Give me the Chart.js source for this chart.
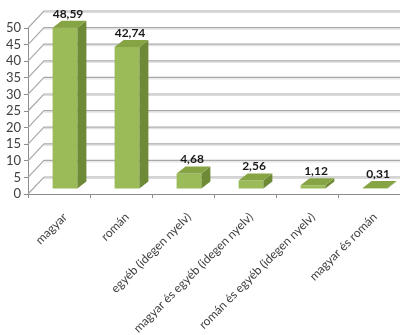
<!DOCTYPE html>
<html>
<head>
<meta charset="utf-8">
<script src="https://cdn.jsdelivr.net/npm/chart.js@4/dist/chart.umd.min.js"></script>
<style>
  html, body { margin: 0; padding: 0; background: #fff; }
  #wrap { width: 400px; height: 335px; }
</style>
</head>
<body>
<div id="wrap"><canvas id="chart"></canvas></div>
<script>
// categories and values
const categories = ['magyar', 'román', 'egyéb (idegen nyelv)', 'magyar és egyéb (idegen nyelv)', 'román és egyéb (idegen nyelv)', 'magyar és román'];
const shares = [48.59, 42.74, 4.68, 2.56, 1.12, 0.31];
const yTicks = [0, 5, 10, 15, 20, 25, 30, 35, 40, 45, 50];

// 3D look: wall depth and bar depth offsets
const WALL = { dx: 16, dy: -17 };
const SHIFT = { dx: 6, dy: -5 };
const BAR = { dx: 9, dy: -7 };

const fmt = v => v.toFixed(2).replace('.', ',');

const wallPlugin = {
  id: 'wall',
  beforeDatasetsDraw(chart) {
    const { ctx, chartArea, scales } = chart;
    ctx.save();
    yTicks.forEach(v => {
      const y = scales.y.getPixelForValue(v);
      ctx.strokeStyle = '#dcdcdc';
      ctx.lineWidth = 1;
      ctx.beginPath();
      ctx.moveTo(chartArea.left + WALL.dx, y + WALL.dy + 1.5);
      ctx.lineTo(chartArea.right + 10, y + WALL.dy + 1.5);
      ctx.stroke();
      ctx.strokeStyle = '#a9a9a9';
      ctx.lineWidth = 1.2;
      ctx.beginPath();
      ctx.moveTo(chartArea.left, y);
      ctx.lineTo(chartArea.left + WALL.dx, y + WALL.dy);
      ctx.lineTo(chartArea.right + 10, y + WALL.dy);
      ctx.stroke();
    });
    ctx.restore();
    // bars are pushed back into the middle of the floor
    ctx.save();
    ctx.translate(SHIFT.dx, SHIFT.dy);
  },
  afterDatasetsDraw(chart) {
    const { ctx } = chart;
    const meta = chart.getDatasetMeta(0);
    meta.data.forEach((bar, i) => {
      const l = bar.x - bar.width / 2, r = bar.x + bar.width / 2;
      const t = bar.y, b = bar.base;
      // side face
      ctx.fillStyle = '#6f8a37';
      ctx.beginPath();
      ctx.moveTo(r, b);
      ctx.lineTo(r + BAR.dx, b + BAR.dy);
      ctx.lineTo(r + BAR.dx, t + BAR.dy);
      ctx.lineTo(r, t);
      ctx.closePath();
      ctx.fill();
      // top face
      ctx.fillStyle = '#86a444';
      ctx.beginPath();
      ctx.moveTo(l, t);
      ctx.lineTo(l + BAR.dx, t + BAR.dy);
      ctx.lineTo(r + BAR.dx, t + BAR.dy);
      ctx.lineTo(r, t);
      ctx.closePath();
      ctx.fill();
      // value label
      ctx.fillStyle = '#1a1a1a';
      ctx.font = 'bold 12px Lato';
      ctx.textAlign = 'center';
      ctx.textBaseline = 'bottom';
      ctx.fillText(fmt(shares[i]), bar.x + 3, t + BAR.dy - 1);
    });
    ctx.restore();
  }
};

new Chart(document.getElementById('chart'), {
  type: 'bar',
  data: {
    labels: categories,
    datasets: [{
      data: shares,
      backgroundColor: '#9bbb59',
      borderWidth: 0,
      barPercentage: 0.4,
      categoryPercentage: 1.0
    }]
  },
  options: {
    responsive: true,
    maintainAspectRatio: false,
    animation: false,
    layout: { padding: { top: 28, right: -6, left: 0, bottom: 0 } },
    plugins: { legend: { display: false }, tooltip: { enabled: false } },
    scales: {
      x: {
        afterFit(scale) { scale.height = 141; },
        grid: { drawOnChartArea: false, tickLength: 4, color: '#8c8c8c' },
        border: { color: '#8c8c8c' },
        ticks: {
          maxRotation: 45, minRotation: 45, padding: 12, labelOffset: 6,
          color: '#404040', font: { family: 'Lato', size: 12 }
        }
      },
      y: {
        min: 0, max: 50,
        afterFit(scale) { scale.width = 28; },
        afterBuildTicks(scale) { scale.ticks = yTicks.map(v => ({ value: v })); },
        grid: { drawOnChartArea: false, tickLength: 4, color: '#8c8c8c' },
        border: { color: '#8c8c8c' },
        ticks: { autoSkip: false, padding: 3, color: '#404040', font: { family: 'Lato', size: 13 } }
      }
    }
  },
  plugins: [wallPlugin]
});
</script>
</body>
</html>
